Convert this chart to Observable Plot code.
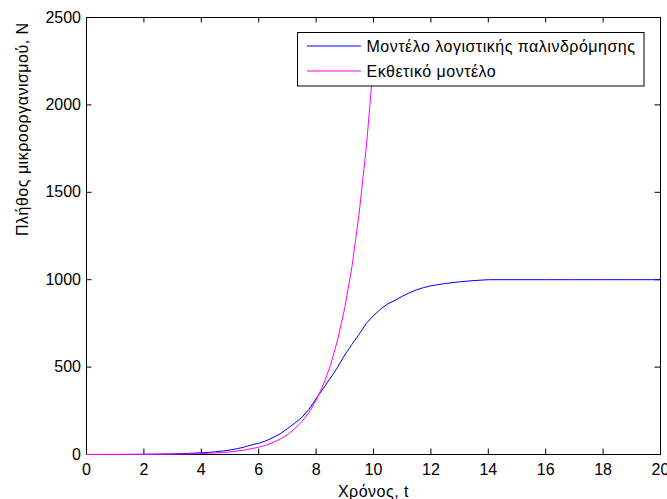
<!DOCTYPE html>
<html><head><meta charset="utf-8">
<script src="https://cdn.jsdelivr.net/npm/d3@7"></script>
<script src="https://cdn.jsdelivr.net/npm/@observablehq/plot@0.6"></script>
<style>body{margin:0;background:#fff} #chart{width:667px;height:499px;}</style>
</head><body><div id="chart"></div>
<script>
// Logistic regression model (blue)
const tLogistic = [0,0.5,1,1.5,2,2.5,3,3.5,4,4.25,4.5,4.75,5,5.25,5.5,5.75,6,6.25,6.5,6.75,7,7.25,7.5,7.75,8,8.25,8.5,8.75,9,9.25,9.5,9.75,10,10.25,10.5,10.75,11,11.25,11.5,11.75,12,12.5,13,13.5,14,15,16,17,18,19,20];
const nLogistic = [0.2,0.3,0.5,0.8,1.3,2.2,3.6,6,9.7,12,16,20,26,33,43,55,64,78,97,118,148,178,212,258,320,378,437,500,570,630,688,750,795,832,862,882,905,925,942,955,965,978,988,995,1000,1000,1000,1000,1000,1000,1000];
// Exponential model (magenta)
const tExponential = [0,0.5,1,1.5,2,2.5,3,3.5,4,4.5,5,5.5,6,6.25,6.5,6.75,7,7.25,7.5,7.75,8,8.25,8.5,8.75,9,9.25,9.5,9.75,10];
const nExponential = [0.1,0.2,0.3,0.5,0.8,1.3,2,3.4,5.5,9,15,25,42,53,69,88,114,146,188,240,310,398,510,655,840,1075,1380,1760,2240];

const xTicks = [0,2,4,6,8,10,12,14,16,18,20];
const yTicks = [0,500,1000,1500,2000,2500];
const seriesNames = ["Μοντέλο λογιστικής παλινδρόμησης", "Εκθετικό μοντέλο"];
const xLabel = "Χρόνος, t";
const yLabel = "Πλήθος μικροοργανισμού, N";

const colors = ["#0000ff", "#ff00ff"];
const logistic = tLogistic.map((t, i) => ({t, n: nLogistic[i]}));
const exponential = tExponential.map((t, i) => ({t, n: nExponential[i]}));

const font = "Arial, 'Liberation Sans', Helvetica, sans-serif";
const plain = d3.format("d");

const W = 667, H = 499, mL = 86, mR = 7, mT = 17, mB = 45;
const frameW = W - mL - mR, frameH = H - mT - mB, tickLen = 5.5;

const chart = Plot.plot({
  width: W, height: H,
  marginLeft: mL, marginRight: mR, marginTop: mT, marginBottom: mB,
  style: {fontFamily: font, fontSize: "16px", color: "black", background: "white", overflow: "visible"},
  x: {domain: [0, 20]},
  y: {domain: [0, 2500]},
  marks: [
    Plot.axisX({anchor: "bottom", ticks: xTicks, tickSize: 0, tickPadding: 9, tickFormat: plain, label: null, fontSize: 16}),
    Plot.axisY({anchor: "left", ticks: yTicks, tickSize: 0, tickPadding: 5.5, tickFormat: plain, label: null, fontSize: 16}),
    // inward MATLAB-style ticks on all four sides
    Plot.tickX(xTicks, {x: d => d, insetTop: frameH - tickLen, stroke: "black"}),
    Plot.tickX(xTicks, {x: d => d, insetBottom: frameH - tickLen, stroke: "black"}),
    Plot.tickY(yTicks, {y: d => d, insetRight: frameW - tickLen, stroke: "black"}),
    Plot.tickY(yTicks, {y: d => d, insetLeft: frameW - tickLen, stroke: "black"}),
    Plot.frame({stroke: "black", strokeWidth: 1}),
    Plot.line(logistic, {x: "t", y: "n", stroke: colors[0], strokeWidth: 1}),
    Plot.line(exponential, {x: "t", y: "n", stroke: colors[1], strokeWidth: 1}),
    Plot.text([xLabel], {text: d => d, frameAnchor: "bottom", dy: 42, lineAnchor: "bottom", fontSize: 16, fill: "black"}),
    Plot.text([yLabel], {text: d => d, frameAnchor: "left", dx: -59, rotate: -90, lineAnchor: "bottom", fontSize: 16, fill: "black"})
  ]
});
document.getElementById("chart").appendChild(chart);
d3.select(chart).selectAll("text").filter(function() { return /[α-ωΑ-Ω]/.test(this.textContent); })
  .attr("letter-spacing", 0.5);

// Legend box (MATLAB-style), drawn on top of the lines
const svg = d3.select(chart);
const lg = svg.append("g").attr("font-family", font).attr("font-size", 16).attr("text-anchor", "start");
lg.append("rect").attr("x", 297.5).attr("y", 32.5).attr("width", 346.5).attr("height", 53.5)
  .attr("fill", "white").attr("stroke", "black").attr("stroke-width", 1);
const rows = [46, 71];
seriesNames.forEach((name, i) => {
  lg.append("line").attr("x1", 307).attr("x2", 361).attr("y1", rows[i]).attr("y2", rows[i])
    .attr("stroke", colors[i]).attr("stroke-width", 1);
  lg.append("text").attr("x", 366.5).attr("y", rows[i] + 5.5).attr("fill", "black")
    .attr("text-anchor", "start").attr("letter-spacing", 0.5).text(name);
});
</script>
</body></html>
